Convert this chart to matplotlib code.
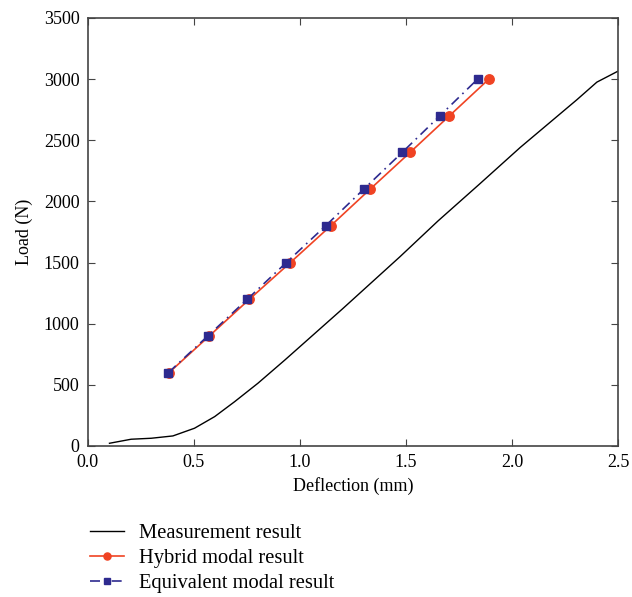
import matplotlib
matplotlib.use('Agg')
import matplotlib.pyplot as plt

plt.rcParams['font.family'] = ['Liberation Serif', 'DejaVu Serif']

# 测量曲线
meas_x = [0.102, 0.204, 0.299, 0.401, 0.503, 0.598, 0.692, 0.802, 0.929, 1.20,
          1.472, 1.651, 1.849, 2.038, 2.305, 2.40, 2.50]
meas_y = [22, 55, 63, 82, 145, 240, 362, 513, 703, 1120,
          1548, 1840, 2145, 2440, 2830, 2975, 3065]

# 模型计算结果
loads = [600, 900, 1200, 1500, 1800, 2100, 2400, 2700, 3000]
hybrid_x = [0.383, 0.573, 0.762, 0.955, 1.145, 1.331, 1.519, 1.705, 1.891]
equiv_x = [0.380, 0.566, 0.752, 0.936, 1.121, 1.301, 1.482, 1.660, 1.838]

fig = plt.figure(figsize=(6.32, 5.97), dpi=100)
ax = fig.add_axes([0.139, 0.253, 0.839, 0.717])

ax.plot(meas_x, meas_y, color='black', linewidth=1.0, label='Measurement result')
ax.plot(hybrid_x, loads, color='#f04323', linewidth=1.2, marker='o',
        markersize=6.8, label='Hybrid modal result')
ax.plot(equiv_x, loads, color='#2e2a8f', linewidth=1.2, linestyle=(0, (6, 3, 1, 3)),
        marker='s', markersize=6.2, label='Equivalent modal result')

ax.set_xlim(0, 2.5)
ax.set_ylim(0, 3500)
ax.set_xticks([0.0, 0.5, 1.0, 1.5, 2.0, 2.5])
ax.set_xticklabels(['0.0', '0.5', '1.0', '1.5', '2.0', '2.5'])
ax.set_yticks(range(0, 3501, 500))
ax.tick_params(direction='in', top=True, right=True, length=5, labelsize=13,
               color='#444444', pad=6)
for s in ax.spines.values():
    s.set_color('#444444')
    s.set_linewidth(1.2)

ax.set_xlabel('Deflection (mm)', fontsize=13, labelpad=4)
ax.set_ylabel('Load (N)', fontsize=13, labelpad=8)

fig.legend(loc='upper left', bbox_to_anchor=(0.130, 0.137), frameon=False,
           fontsize=14.8, handlelength=1.65, handletextpad=0.72, markerscale=0.75,
           labelspacing=0.28, borderaxespad=0)

fig.savefig('out.png', dpi=100)
